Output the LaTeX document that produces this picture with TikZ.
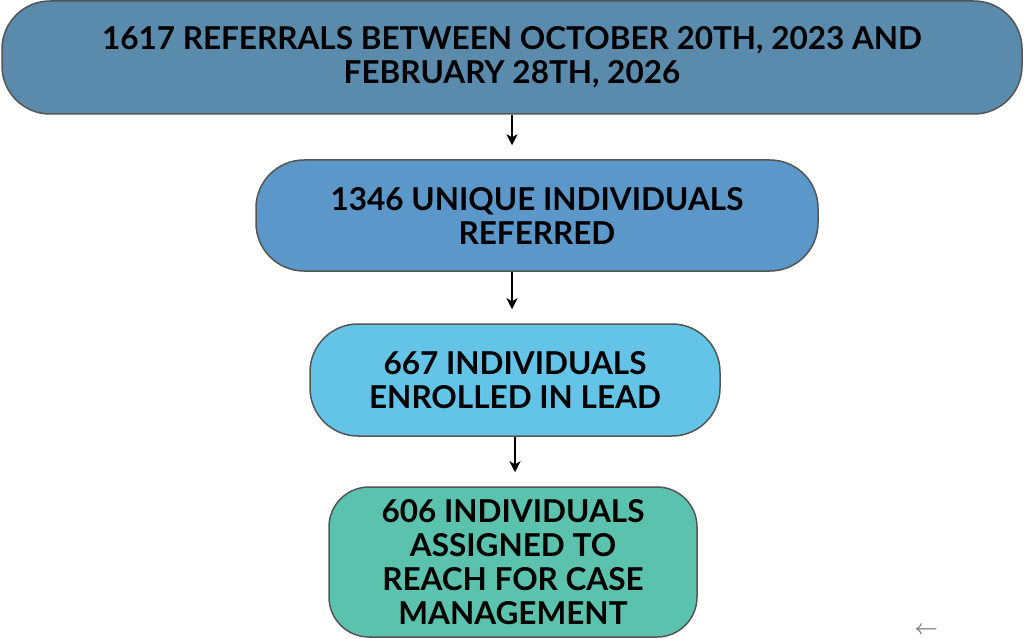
\documentclass[tikz,border=0pt]{standalone}
\usepackage{fontspec}
\setmainfont{Lato}
\usetikzlibrary{calc,positioning,arrows.meta}
\definecolor{stageA}{HTML}{5A8BAD}
\definecolor{stageB}{HTML}{5B97C9}
\definecolor{stageC}{HTML}{64C4E7}
\definecolor{stageD}{HTML}{5BC3AD}
\definecolor{rim}{HTML}{555555}

\begin{document}
\begin{tikzpicture}[x=1pt, y=-1pt,
    stage/.style={draw=rim, line width=1.5pt, rounded corners=48pt, align=center,
        inner sep=0pt, font=\fontsize{31.5}{34}\selectfont\bfseries},
    flow/.style={-{Stealth[length=11pt,width=11pt,inset=3pt]}, line width=1.5pt, shorten >=14pt}]
    \useasboundingbox (0,0) rectangle (1025,639);

    % Draw the four stages top to bottom
    \node[stage, fill=stageA, minimum width=1020pt, minimum height=113pt] (s0) at (512,57.5)
        {1617 REFERRALS BETWEEN OCTOBER 20TH, 2023 AND\\FEBRUARY 28TH, 2026};
    \node[stage, fill=stageB, minimum width=562pt, minimum height=111pt] (s1) at (537,215.5)
        {1346 UNIQUE INDIVIDUALS\\REFERRED};
    \node[stage, fill=stageC, minimum width=410pt, minimum height=112pt] (s2) at (515,380)
        {667 INDIVIDUALS\\ENROLLED IN LEAD};
    \node[stage, fill=stageD, minimum width=368pt, minimum height=150pt, rounded corners=40pt] (s3) at (513,562)
        {606 INDIVIDUALS\\ASSIGNED TO\\REACH FOR CASE\\MANAGEMENT};

    % Arrows between the stages
    \draw[flow] (s0.south) -- (s0.south |- s1.north);
    \draw[flow] (s1.south -| s0.south) -- (s2.north -| s0.south);
    \draw[flow] (s2.south) -- (s2.south |- s3.north);

    % Small mark in the corner
    \node[gray, font=\fontsize{22}{22}\selectfont\boldmath] (mark) at (926,630) {$\leftarrow$};
\end{tikzpicture}
\end{document}
